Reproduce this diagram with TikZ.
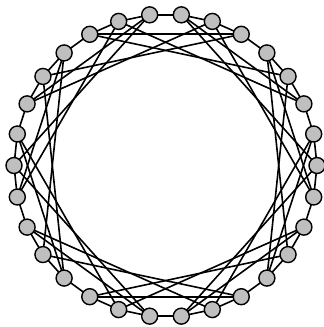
\documentclass[tikz,border=0pt]{standalone}
\pgfdeclarelayer{bg}
\pgfsetlayers{bg,main}
\begin{document}
\begin{tikzpicture}[x=1pt,y=1pt,
  vtx/.style={circle,draw=black,fill=gray!50,line width=1.4pt,minimum size=16pt,inner sep=0pt},
  edge/.style={line width=1.6pt,black}]
\useasboundingbox (0,0) rectangle (324,327);
\foreach \k in {0,...,29} {
  \node[vtx] (n\k) at ({165.5+151.5*cos(12*\k)},{161.5+151.5*sin(12*\k)}) {};
}
\begin{pgfonlayer}{bg}
\foreach \k in {0,...,29} {
  \pgfmathtruncatemacro\j{mod(\k+1,30)}
  \draw[edge] (n\k.center) -- (n\j.center);
}
\foreach \a/\b in {10/5,20/25,12/5,18/25,3/10,27/20,29/6,1/24,16/9,14/21,11/18,19/12,4/27,26/3,9/2,21/28,6/13,24/17,8/13,22/17,7/2,23/28,0/7,0/23,15/8,15/22,1/26,29/4,14/19,16/11}
  \draw[edge] (n\a.center) -- (n\b.center);
\end{pgfonlayer}
\end{tikzpicture}
\end{document}
